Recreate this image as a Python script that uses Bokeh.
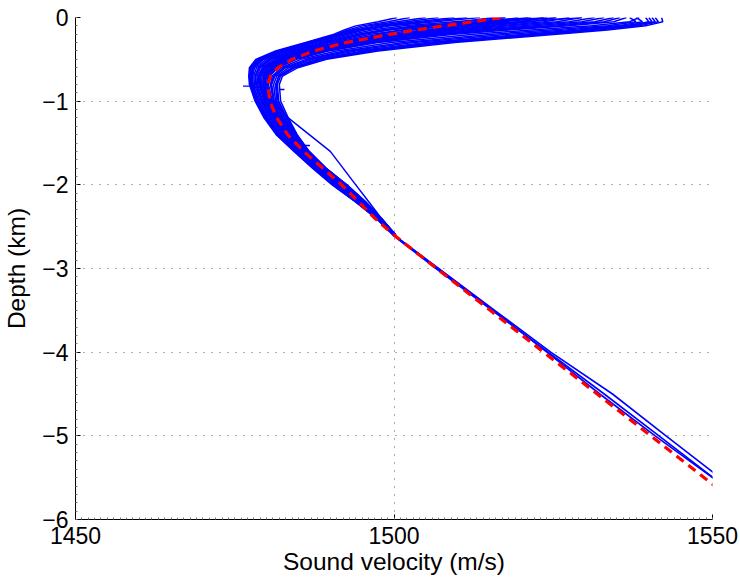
from bokeh.plotting import figure
from bokeh.models import SingleIntervalTicker
from bokeh.embed import file_html
from bokeh.resources import INLINE

# ---------------- data ----------------
# depth grid (km) for the upper (variable) part of every measured profile
depth_upper = [0.0, -0.05, -0.1, -0.15, -0.2, -0.3, -0.4, -0.5, -0.6, -0.7, -0.8,
               -1.0, -1.2, -1.4, -1.6, -1.8, -2.0, -2.2, -2.4, -2.6]

# measured sound-velocity profiles (m/s), upper part
prof_L1 = [1500.5, 1497.5, 1494.0, 1492.2, 1490.6, 1486.0, 1481.4, 1478.3, 1477.3, 1477.2, 1477.3, 1478.2, 1479.6, 1481.5, 1484.3, 1487.2, 1490.3, 1493.9, 1497.2, 1499.9]
prof_L2 = [1505.0, 1500.5, 1496.0, 1493.4, 1491.3, 1486.5, 1481.9, 1478.7, 1477.6, 1477.4, 1477.5, 1478.4, 1479.8, 1481.7, 1484.5, 1487.4, 1490.5, 1494.0, 1497.3, 1499.9]
prof_L3 = [1509.5, 1503.5, 1497.8, 1494.4, 1492.0, 1487.2, 1482.5, 1479.1, 1477.9, 1477.6, 1477.7, 1478.6, 1480.0, 1481.9, 1484.7, 1487.6, 1490.7, 1494.1, 1497.3, 1499.9]
prof_L4 = [1513.5, 1506.5, 1499.5, 1495.4, 1492.7, 1487.7, 1483.0, 1479.5, 1478.1, 1477.8, 1477.9, 1478.8, 1480.2, 1482.1, 1484.9, 1487.8, 1490.9, 1494.2, 1497.4, 1500.0]
prof_L5 = [1517.5, 1509.5, 1501.5, 1496.6, 1493.5, 1488.3, 1483.5, 1479.9, 1478.4, 1478.0, 1478.1, 1479.0, 1480.4, 1482.3, 1485.1, 1488.0, 1491.1, 1494.3, 1497.4, 1500.0]
prof_L6 = [1521.5, 1513.0, 1503.5, 1498.0, 1494.4, 1488.8, 1484.0, 1480.3, 1478.7, 1478.2, 1478.3, 1479.2, 1480.6, 1482.5, 1485.3, 1488.2, 1491.2, 1494.4, 1497.5, 1500.0]
prof_L7 = [1525.5, 1516.5, 1505.5, 1499.3, 1495.3, 1489.4, 1484.5, 1480.7, 1479.0, 1478.5, 1478.6, 1479.4, 1480.8, 1482.7, 1485.5, 1488.4, 1491.4, 1494.5, 1497.5, 1500.0]
prof_L8 = [1529.5, 1520.5, 1508.5, 1501.3, 1496.4, 1490.0, 1485.0, 1481.1, 1479.3, 1478.7, 1478.8, 1479.6, 1481.0, 1482.9, 1485.7, 1488.6, 1491.6, 1494.6, 1497.6, 1500.0]
prof_L9 = [1502.5, 1499.0, 1495.0, 1492.8, 1491.0, 1486.3, 1481.7, 1478.5, 1477.5, 1477.3, 1477.4, 1478.3, 1479.7, 1481.6, 1484.4, 1487.3, 1490.4, 1494.0, 1497.2, 1499.9]
prof_L10 = [1511.5, 1505.0, 1498.6, 1494.9, 1492.3, 1487.4, 1482.7, 1479.3, 1478.0, 1477.7, 1477.8, 1478.7, 1480.1, 1482.0, 1484.8, 1487.7, 1490.8, 1494.1, 1497.3, 1499.9]
prof_L11 = [1507.0, 1502.0, 1497.0, 1494.0, 1491.7, 1486.9, 1482.2, 1478.9, 1477.8, 1477.5, 1477.6, 1478.5, 1479.9, 1481.8, 1484.6, 1487.5, 1490.6, 1494.0, 1497.3, 1499.9]
prof_L12 = [1523.5, 1514.8, 1504.5, 1498.6, 1494.8, 1489.1, 1484.2, 1480.5, 1478.8, 1478.3, 1478.4, 1479.3, 1480.7, 1482.6, 1485.4, 1488.3, 1491.3, 1494.5, 1497.5, 1500.0]
prof_M1 = [1519.5, 1515.5, 1510.0, 1504.5, 1499.8, 1491.7, 1486.0, 1482.0, 1479.8, 1479.0, 1479.0, 1479.9, 1481.3, 1483.2, 1485.8, 1488.7, 1491.7, 1494.8, 1497.6, 1500.0]
prof_M2 = [1523.5, 1519.5, 1513.0, 1506.5, 1501.2, 1492.6, 1486.6, 1482.5, 1480.2, 1479.3, 1479.2, 1480.1, 1481.5, 1483.4, 1486.0, 1488.8, 1491.8, 1494.8, 1497.7, 1500.0]
prof_M3 = [1527.5, 1523.5, 1516.5, 1509.0, 1503.0, 1493.6, 1487.3, 1483.0, 1480.6, 1479.6, 1479.5, 1480.3, 1481.7, 1483.6, 1486.1, 1488.9, 1491.9, 1494.9, 1497.7, 1500.0]
prof_M4 = [1531.5, 1527.5, 1520.0, 1511.5, 1504.8, 1494.6, 1488.0, 1483.5, 1481.0, 1479.9, 1479.7, 1480.5, 1481.9, 1483.7, 1486.2, 1489.0, 1492.0, 1494.9, 1497.7, 1500.1]
prof_M5 = [1534.5, 1531.5, 1524.0, 1514.5, 1506.8, 1496.0, 1488.8, 1484.1, 1481.4, 1480.2, 1480.0, 1480.7, 1482.1, 1483.9, 1486.3, 1489.1, 1492.1, 1495.0, 1497.8, 1500.1]
prof_M6 = [1536.5, 1534.5, 1527.5, 1518.0, 1509.5, 1497.5, 1489.7, 1484.7, 1481.8, 1480.5, 1480.3, 1480.9, 1482.3, 1484.1, 1486.4, 1489.2, 1492.2, 1495.0, 1497.8, 1500.1]
prof_M7 = [1515.5, 1511.0, 1506.0, 1501.5, 1497.6, 1490.8, 1485.4, 1481.5, 1479.5, 1478.8, 1478.9, 1479.8, 1481.2, 1483.1, 1485.7, 1488.6, 1491.6, 1494.7, 1497.6, 1500.0]
prof_M8 = [1538.5, 1537.0, 1531.0, 1521.5, 1512.5, 1499.5, 1491.0, 1485.4, 1482.3, 1480.9, 1480.6, 1481.1, 1482.5, 1484.3, 1486.5, 1489.3, 1492.3, 1495.1, 1497.9, 1500.1]
prof_M9 = [1521.0, 1517.5, 1511.5, 1505.5, 1500.5, 1492.2, 1486.3, 1482.2, 1480.0, 1479.1, 1479.1, 1480.0, 1481.4, 1483.3, 1485.9, 1488.7, 1491.7, 1494.8, 1497.6, 1500.0]
prof_M10 = [1529.5, 1525.5, 1518.0, 1510.0, 1503.8, 1494.1, 1487.6, 1483.2, 1480.8, 1479.7, 1479.6, 1480.4, 1481.8, 1483.6, 1486.1, 1488.9, 1491.9, 1494.9, 1497.7, 1500.0]
prof_M11 = [1533.0, 1529.5, 1522.0, 1513.0, 1505.8, 1495.3, 1488.4, 1483.8, 1481.2, 1480.0, 1479.8, 1480.6, 1482.0, 1483.8, 1486.2, 1489.0, 1492.0, 1495.0, 1497.8, 1500.1]
prof_M12 = [1525.5, 1521.5, 1514.8, 1507.8, 1502.1, 1493.1, 1487.0, 1482.8, 1480.4, 1479.5, 1479.4, 1480.2, 1481.6, 1483.5, 1486.0, 1488.8, 1491.8, 1494.8, 1497.7, 1500.0]
prof_M13 = [1517.5, 1513.2, 1508.0, 1503.0, 1498.7, 1491.2, 1485.7, 1481.7, 1479.6, 1478.9, 1478.9, 1479.8, 1481.2, 1483.1, 1485.7, 1488.6, 1491.6, 1494.7, 1497.6, 1500.0]
prof_M14 = [1535.5, 1533.0, 1525.8, 1516.2, 1508.0, 1496.7, 1489.2, 1484.4, 1481.6, 1480.3, 1480.1, 1480.8, 1482.2, 1484.0, 1486.3, 1489.1, 1492.1, 1495.0, 1497.8, 1500.1]
prof_R1 = [1540.0, 1540.5, 1536.0, 1529.0, 1520.5, 1505.0, 1494.0, 1487.3, 1483.5, 1481.6, 1481.1, 1481.4, 1482.8, 1484.5, 1486.5, 1489.2, 1492.4, 1495.3, 1497.9, 1500.2]
prof_R2 = [1541.0, 1541.5, 1538.5, 1532.0, 1524.0, 1508.0, 1496.5, 1488.8, 1484.4, 1482.2, 1481.7, 1481.9, 1483.2, 1484.7, 1486.6, 1489.3, 1492.6, 1495.5, 1498.0, 1500.3]
prof_R3 = [1538.0, 1539.0, 1535.0, 1527.0, 1518.0, 1503.0, 1493.0, 1486.7, 1483.0, 1481.3, 1480.8, 1481.2, 1482.6, 1484.4, 1486.5, 1489.1, 1492.3, 1495.2, 1497.9, 1500.2]
prof_R4 = [1542.0, 1542.2, 1539.5, 1533.5, 1525.5, 1509.5, 1497.5, 1489.4, 1484.9, 1482.5, 1482.0, 1482.2, 1483.4, 1484.8, 1486.7, 1489.3, 1492.6, 1495.5, 1498.0, 1500.3]
prof_R5 = [1539.5, 1540.0, 1537.0, 1530.5, 1522.0, 1506.5, 1495.2, 1488.0, 1484.0, 1481.9, 1481.4, 1481.6, 1483.0, 1484.6, 1486.6, 1489.2, 1492.5, 1495.4, 1498.0, 1500.2]
prof_R6 = [1537.0, 1538.0, 1533.5, 1524.5, 1515.5, 1501.5, 1492.2, 1486.2, 1482.7, 1481.1, 1480.7, 1481.1, 1482.5, 1484.3, 1486.5, 1489.1, 1492.2, 1495.1, 1497.9, 1500.2]
prof_R7 = [1540.5, 1541.0, 1537.5, 1531.0, 1523.0, 1507.2, 1495.8, 1488.4, 1484.2, 1482.0, 1481.5, 1481.8, 1483.1, 1484.7, 1486.6, 1489.3, 1492.5, 1495.4, 1498.0, 1500.2]
prof_O1 = [1524.0, 1520.0, 1514.0, 1507.5, 1502.0, 1493.0, 1487.0, 1482.8, 1480.5, 1479.5, 1479.5, 1481.0, 1483.4, 1486.7, 1490.0, 1492.0, 1494.0, 1496.0, 1498.0, 1500.2]

upper_profiles = [prof_L1, prof_L2, prof_L3, prof_L4, prof_L5, prof_L6, prof_L7, prof_L8,
                  prof_L9, prof_L10, prof_L11, prof_L12,
                  prof_M1, prof_M2, prof_M3, prof_M4, prof_M5, prof_M6, prof_M7,
                  prof_M8, prof_M9, prof_M10, prof_M11, prof_M12, prof_M13, prof_M14,
                  prof_R1, prof_R2, prof_R3, prof_R4, prof_R5, prof_R6, prof_R7,
                  prof_O1]

# deep part of the profiles (they nearly coincide below 2.5 km)
depth_deep = [-2.6, -3.0, -3.5, -4.0, -4.5, -5.0, -5.5, -5.8]
deep_A = [1500.0, 1507.0, 1515.8, 1524.6, 1534.3, 1542.7, 1551.2, 1556.0]
deep_B = [1500.0, 1506.9, 1515.6, 1524.0, 1532.3, 1541.0, 1550.0, 1555.0]
deep_C = [1499.8, 1506.6, 1515.4, 1524.2, 1533.0, 1541.6, 1550.1, 1555.3]
deep_profiles = [deep_A, deep_B, deep_C]

# short spikes in a few casts
spike_velocity = [[1476.3, 1478.2], [1482.0, 1482.8], [1485.6, 1486.8]]
spike_depth = [[-0.82, -0.82], [-0.86, -0.86], [-1.53, -1.53]]

# mean profile (red dashed)
mean_depth = [0.0, -0.05, -0.1, -0.15, -0.2, -0.3, -0.4, -0.5, -0.6, -0.7, -0.8,
              -1.0, -1.2, -1.4, -1.6, -1.8, -2.0, -2.2, -2.4, -2.6,
              -3.0, -3.5, -4.0, -4.5, -5.0, -5.5, -5.8]
mean_velocity = [1516.8, 1512.5, 1507.8, 1503.3, 1499.5, 1492.4, 1487.4, 1484.0, 1481.8, 1480.6, 1480.2,
                 1480.5, 1481.6, 1483.3, 1485.8, 1488.8, 1491.8, 1494.4, 1497.0, 1500.0,
                 1506.7, 1515.1, 1523.5, 1531.9, 1540.3, 1548.7, 1553.7]

y_ticks = [-6, -5, -4, -3, -2, -1, 0]
y_tick_labels = ["\u22126", "\u22125", "\u22124", "\u22123", "\u22122", "\u22121", "0"]
x_ticks = [1450, 1500, 1550]
x_tick_labels = ["1450", "1500", "1550"]

# ---------------- plot ----------------
FONT = "Liberation Sans"

p = figure(width=740, height=577, x_range=(1450, 1550), y_range=(-6, 0),
           output_backend="svg", toolbar_location=None,
           min_border_left=75, min_border_right=28, min_border_top=17, min_border_bottom=57)
p.outline_line_color = None
p.background_fill_color = "white"
p.border_fill_color = "white"

p.multi_line(xs=upper_profiles, ys=[depth_upper] * len(upper_profiles),
             line_color="#0000FF", line_width=1.5)
p.multi_line(xs=deep_profiles, ys=[depth_deep] * len(deep_profiles),
             line_color="#0000FF", line_width=1.6)
p.multi_line(xs=spike_velocity, ys=spike_depth, line_color="#0000FF", line_width=1.4)
p.line(mean_velocity, mean_depth, line_color="#FF0000", line_width=3.2, line_dash="9 6")

p.xaxis.ticker = SingleIntervalTicker(interval=50, num_minor_ticks=50)
p.yaxis.ticker = SingleIntervalTicker(interval=1, num_minor_ticks=10)
p.xaxis.major_label_overrides = {v: s for v, s in zip(x_ticks, x_tick_labels)}
p.yaxis.major_label_overrides = {v: s for v, s in zip(y_ticks, y_tick_labels)}

for ax in (p.xaxis, p.yaxis):
    ax.axis_line_color = "black"
    ax.axis_line_width = 1
    ax.major_tick_in = 5
    ax.major_tick_out = 0
    ax.major_tick_line_color = "black"
    ax.minor_tick_in = 2
    ax.minor_tick_out = 0
    ax.minor_tick_line_color = "#777777"
    ax.major_label_text_font = FONT
    ax.major_label_text_font_size = "23px"
    ax.major_label_text_color = "black"
    ax.axis_label_text_font = FONT
    ax.axis_label_text_font_size = "24.5px"
    ax.axis_label_text_font_style = "normal"
    ax.axis_label_text_color = "black"

p.xaxis.axis_label = "Sound velocity (m/s)"
p.yaxis.axis_label = "Depth (km)"
p.xaxis.major_label_standoff = 7
p.xaxis.axis_label_standoff = 1
p.yaxis.major_label_standoff = 7
p.yaxis.axis_label_standoff = 9

for g in (p.xgrid, p.ygrid):
    g.grid_line_color = "#333333"
    g.grid_line_width = 1
    g.grid_line_dash = "1 7"
    g.grid_line_alpha = 0.8

open("out.html", "w").write(file_html(p, INLINE))
